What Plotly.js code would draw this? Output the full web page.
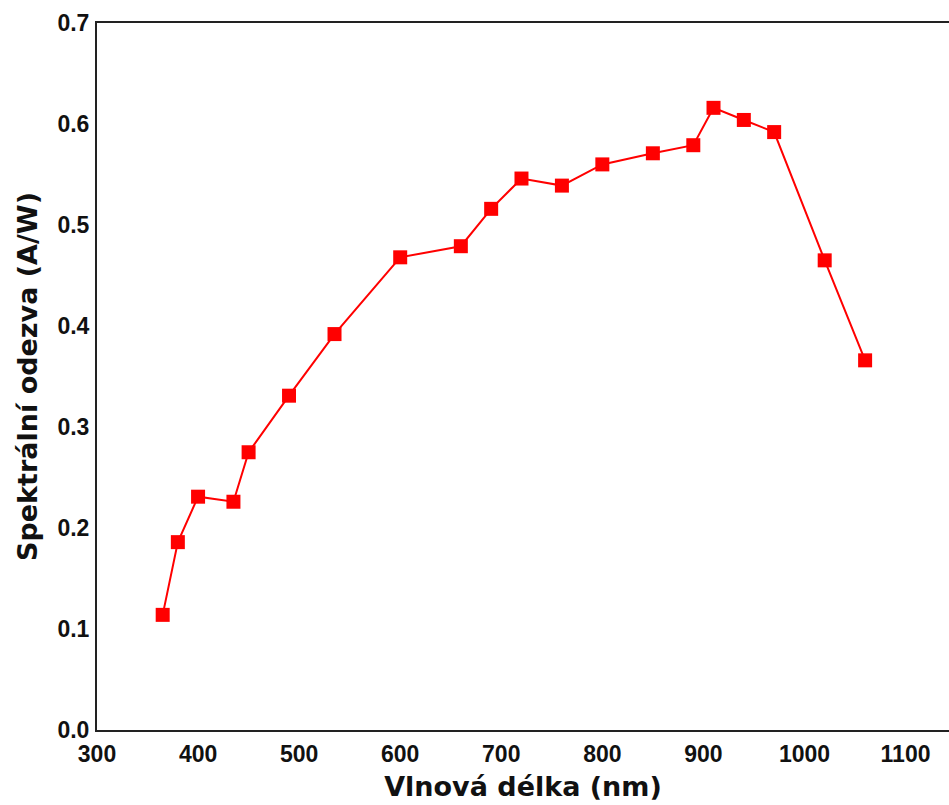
<!DOCTYPE html>
<html>
<head>
<meta charset="utf-8">
<script src="https://cdn.plot.ly/plotly-3.0.1.min.js"></script>
<style>html,body{margin:0;padding:0;background:#fff;}#chart{width:949px;height:805px;}</style>
</head>
<body>
<div id="chart"></div>
<script>
const wavelength = [365, 380, 400, 435, 450, 490, 535, 600, 660, 690, 720, 760, 800, 850, 890, 910, 940, 970, 1020, 1060];
const response = [0.114, 0.186, 0.231, 0.226, 0.275, 0.331, 0.392, 0.468, 0.479, 0.516, 0.546, 0.539, 0.560, 0.571, 0.579, 0.616, 0.604, 0.592, 0.465, 0.366];
const xTicks = [300, 400, 500, 600, 700, 800, 900, 1000, 1100];
const yTicks = [0.0, 0.1, 0.2, 0.3, 0.4, 0.5, 0.6, 0.7];
const yTickText = ['0.0', '0.1', '0.2', '0.3', '0.4', '0.5', '0.6', '0.7'];

const trace = {
  x: wavelength, y: response, type: 'scatter', mode: 'lines+markers',
  line: {color: '#ff0000', width: 2},
  marker: {symbol: 'square', size: 14, color: '#ff0000'},
  showlegend: false
};
const font = {family: 'Liberation Sans, Arial, sans-serif', color: '#000'};
const titleFont = {family: 'DejaVu Sans, Verdana, sans-serif', size: 27, color: '#111', weight: 'bold'};
const layout = {
  width: 949, height: 805,
  margin: {l: 97, r: 0, t: 23, b: 75},
  paper_bgcolor: '#fff', plot_bgcolor: '#fff',
  font: font,
  xaxis: {
    range: [300, 1143], tickvals: xTicks, ticktext: xTicks.map(String),
    showgrid: false, zeroline: false, showline: true, linecolor: '#222', linewidth: 2,
    mirror: true, ticks: '', ticklabelstandoff: 2,
    tickfont: {family: 'Liberation Sans, Arial', size: 23, color: '#111', weight: 'bold'},
    title: {text: 'Vlnová délka (nm)', font: titleFont, standoff: 12}
  },
  yaxis: {
    range: [0, 0.7], tickvals: yTicks, ticktext: yTickText,
    showgrid: false, zeroline: false, showline: true, linecolor: '#222', linewidth: 2,
    mirror: false, ticks: '', ticklabelstandoff: 1,
    tickfont: {family: 'Liberation Sans, Arial', size: 23, color: '#111', weight: 'bold'},
    title: {text: 'Spektrální odezva (A/W)', font: titleFont, standoff: 12}
  }
};
Plotly.newPlot('chart', [trace], layout, {displayModeBar: false, staticPlot: true});
</script>
</body>
</html>
